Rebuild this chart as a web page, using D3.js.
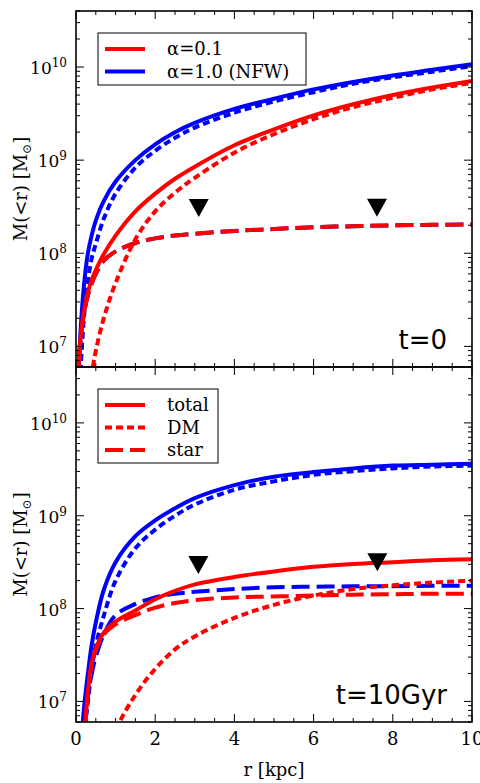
<!DOCTYPE html>
<meta charset="utf-8">
<style>
body { margin: 0; background: #fff; }
text { font-family: "DejaVu Serif", serif; fill: #000; }
.curve { fill: none; stroke-width: 4px; stroke-linecap: butt; }
</style>
<body>
<script src="https://d3js.org/d3.v7.min.js"></script>
<script>

// radii (kpc) and log10 M(<r)
var rTop = [0.05, 0.1, 0.2, 0.3, 0.4, 0.5, 0.7, 1, 1.5, 2, 2.5, 3, 4, 5, 6, 7, 8, 9, 10];
var topNfwTotal = [6.45, 7.05, 7.65, 8.0, 8.2, 8.35, 8.56, 8.77, 9.0, 9.17, 9.3, 9.4, 9.55, 9.66, 9.76, 9.84, 9.91, 9.97, 10.03];
var topNfwDM    = [5.9, 6.6, 7.3, 7.7, 7.95, 8.1, 8.37, 8.64, 8.92, 9.1, 9.24, 9.35, 9.51, 9.63, 9.73, 9.82, 9.89, 9.95, 10.01];
var topNfwStar  = [6.6, 7.0, 7.35, 7.55, 7.68, 7.78, 7.92, 8.02, 8.11, 8.16, 8.19, 8.21, 8.24, 8.26, 8.28, 8.29, 8.30, 8.305, 8.31];
var topA01Total = [6.62, 7.02, 7.38, 7.58, 7.72, 7.82, 7.99, 8.19, 8.45, 8.64, 8.8, 8.93, 9.16, 9.33, 9.48, 9.6, 9.7, 9.78, 9.85];
var topA01DM    = [4.9, 5.5, 6.1, 6.47, 6.72, 6.95, 7.3, 7.68, 8.15, 8.45, 8.65, 8.81, 9.08, 9.28, 9.44, 9.57, 9.67, 9.76, 9.83];
var topA01Star  = [6.6, 7.0, 7.35, 7.55, 7.68, 7.78, 7.92, 8.02, 8.11, 8.16, 8.19, 8.21, 8.24, 8.26, 8.28, 8.29, 8.30, 8.305, 8.31];

var rBot = [0.1, 0.15, 0.2, 0.25, 0.3, 0.4, 0.5, 0.7, 1, 1.5, 2, 2.5, 3, 4, 5, 6, 7, 8, 9, 10];
var botNfwTotal = [6.3, 6.65, 6.92, 7.12, 7.3, 7.62, 7.85, 8.2, 8.5, 8.78, 8.95, 9.08, 9.19, 9.33, 9.42, 9.47, 9.51, 9.54, 9.55, 9.56];
var botNfwDM    = [5.9, 6.3, 6.55, 6.8, 7.0, 7.35, 7.6, 7.92, 8.3, 8.65, 8.85, 9.0, 9.12, 9.28, 9.37, 9.44, 9.48, 9.51, 9.53, 9.54];
var botNfwStar  = [5.9, 6.3, 6.6, 6.85, 7.05, 7.3, 7.48, 7.72, 7.93, 8.05, 8.12, 8.16, 8.18, 8.21, 8.23, 8.235, 8.24, 8.24, 8.245, 8.245];
var botA01Total = [5.6, 6.1, 6.5, 6.85, 7.1, 7.42, 7.57, 7.74, 7.86, 7.98, 8.1, 8.19, 8.26, 8.34, 8.4, 8.45, 8.48, 8.5, 8.52, 8.53];
var botA01DM    = [4.0, 4.4, 4.7, 4.9, 5.1, 5.5, 5.8, 6.2, 6.68, 7.07, 7.35, 7.56, 7.7, 7.9, 8.04, 8.14, 8.21, 8.25, 8.28, 8.3];
var botA01Star  = [5.6, 6.1, 6.5, 6.84, 7.09, 7.41, 7.55, 7.72, 7.83, 7.93, 8.01, 8.06, 8.09, 8.12, 8.13, 8.14, 8.15, 8.155, 8.16, 8.16];

// triangle markers
var markTopR = [3.1, 7.6], markTopM = [8.485, 8.49];
var markBotR = [3.09, 7.61], markBotM = [8.47, 8.5];

var xTicks = [0, 2, 4, 6, 8, 10];
var yTickExp = [7, 8, 9, 10];
var legendTop = ["α=0.1", "α=1.0 (NFW)"];
var legendBot = ["total", "DM", "star"];
var panelLabels = ["t=0", "t=10Gyr"];

var red = "#ff0000", blue = "#0000ff";
var shortDash = "7,4", longDash = "18,7";

var width = 480, height = 783;
var left = 76, right = 472;

var svg = d3.select("body").append("svg")
    .attr("width", width)
    .attr("height", height);

var x = d3.scaleLinear().domain([0, 10]).range([left, right]);

function series(r, logm) {
    return r.map(function (d, i) { return {r: d, m: Math.pow(10, logm[i])}; });
}

function drawPanel(y0, y1, id, curves, mR, mM, label, showX) {
    var y = d3.scaleLog().domain([6e6, 4e10]).range([y1, y0]);
    var g = svg.append("g");

    g.append("clipPath").attr("id", id)
        .append("rect")
        .attr("x", left).attr("y", y0)
        .attr("width", right - left).attr("height", y1 - y0);

    var line = d3.line()
        .curve(d3.curveCatmullRom.alpha(0.5))
        .x(function (d) { return x(d.r); })
        .y(function (d) { return y(d.m); });

    var cg = g.append("g").attr("clip-path", "url(#" + id + ")");
    curves.forEach(function (c) {
        cg.append("path")
            .attr("class", "curve")
            .attr("d", line(series(c.r, c.v)))
            .attr("stroke", c.color)
            .attr("stroke-dasharray", c.dash);
    });

    // markers
    g.selectAll(".mark").data(mR).enter().append("path")
        .attr("d", "M-10,-9L10,-9L0,9Z")
        .attr("fill", "#000")
        .attr("transform", function (d, i) {
            return "translate(" + x(d) + "," + y(Math.pow(10, mM[i])) + ")";
        });

    // x ticks, top and bottom, inward
    d3.range(0, 10.01, 0.5).forEach(function (t) {
        var len = (t % 2 === 0) ? 8 : 4;
        g.append("line").attr("x1", x(t)).attr("x2", x(t))
            .attr("y1", y1).attr("y2", y1 - len).attr("stroke", "#000");
        g.append("line").attr("x1", x(t)).attr("x2", x(t))
            .attr("y1", y0).attr("y2", y0 + len).attr("stroke", "#000");
    });

    // y ticks (log)
    for (var n = 6; n <= 10; n++) {
        for (var k = 1; k <= 9; k++) {
            var v = k * Math.pow(10, n);
            if (v < 6e6 || v > 4e10) continue;
            var len = (k === 1) ? 8 : 4;
            g.append("line").attr("x1", left).attr("x2", left + len)
                .attr("y1", y(v)).attr("y2", y(v)).attr("stroke", "#000");
            g.append("line").attr("x1", right).attr("x2", right - len)
                .attr("y1", y(v)).attr("y2", y(v)).attr("stroke", "#000");
        }
    }

    yTickExp.forEach(function (e) {
        var t = g.append("text")
            .attr("x", left - 9)
            .attr("y", y(Math.pow(10, e)) + 7)
            .attr("text-anchor", "end")
            .style("font-size", "17px");
        t.append("tspan").text("10");
        t.append("tspan").attr("dy", -7).style("font-size", "12px").text(e);
    });

    if (showX) {
        xTicks.forEach(function (t) {
            g.append("text")
                .attr("x", x(t)).attr("y", y1 + 23)
                .attr("text-anchor", "middle")
                .style("font-size", "18px")
                .text(t);
        });
    }

    // y label
    var yl = g.append("text")
        .attr("transform", "translate(27," + ((y0 + y1) / 2) + ") rotate(-90)")
        .attr("text-anchor", "middle")
        .style("font-size", "18px");
    yl.append("tspan").text("M(<r) [M");
    yl.append("tspan").attr("dy", 4).style("font-size", "12px").text("⊙");
    yl.append("tspan").attr("dy", -4).text("]");

    g.append("text")
        .attr("x", 447).attr("y", y1 - 18)
        .attr("text-anchor", "end")
        .style("font-family", "DejaVu Sans")
        .style("font-size", "26px")
        .text(label);

    // frame
    g.append("rect")
        .attr("x", left).attr("y", y0)
        .attr("width", right - left).attr("height", y1 - y0)
        .attr("fill", "none").attr("stroke", "#000").attr("stroke-width", 1.6);
}

drawPanel(11, 367, "clipTop", [
    {r: rTop, v: topNfwStar, color: blue, dash: longDash},
    {r: rTop, v: topNfwDM, color: blue, dash: shortDash},
    {r: rTop, v: topNfwTotal, color: blue, dash: null},
    {r: rTop, v: topA01DM, color: red, dash: shortDash},
    {r: rTop, v: topA01Star, color: red, dash: longDash},
    {r: rTop, v: topA01Total, color: red, dash: null}
], markTopR, markTopM, panelLabels[0], false);

drawPanel(367, 722, "clipBot", [
    {r: rBot, v: botNfwStar, color: blue, dash: longDash},
    {r: rBot, v: botNfwDM, color: blue, dash: shortDash},
    {r: rBot, v: botNfwTotal, color: blue, dash: null},
    {r: rBot, v: botA01DM, color: red, dash: shortDash},
    {r: rBot, v: botA01Star, color: red, dash: longDash},
    {r: rBot, v: botA01Total, color: red, dash: null}
], markBotR, markBotM, panelLabels[1], true);

// legends
function legend(x0, y0, w, h, items, colors, dashes) {
    var g = svg.append("g");
    g.append("rect").attr("x", x0).attr("y", y0).attr("width", w).attr("height", h)
        .attr("fill", "#fff").attr("stroke", "#000").attr("stroke-width", 1);
    items.forEach(function (d, i) {
        var yy = y0 + 16 + i * 22.5;
        g.append("line").attr("x1", x0 + 7).attr("x2", x0 + 47)
            .attr("y1", yy).attr("y2", yy)
            .attr("stroke", colors[i]).attr("stroke-width", 4)
            .attr("stroke-dasharray", dashes[i]);
        g.append("text").attr("x", x0 + 69).attr("y", yy + 6)
            .style("font-size", "18px").text(d);
    });
}

legend(98, 33, 208, 52, legendTop, [red, blue], [null, null]);
legend(98, 389, 120, 74, legendBot, [red, red, red], [null, shortDash, longDash]);

// x label
svg.append("text")
    .attr("x", (left + right) / 2).attr("y", 776)
    .attr("text-anchor", "middle")
    .style("font-size", "18px")
    .text("r [kpc]");

</script>
</body>
